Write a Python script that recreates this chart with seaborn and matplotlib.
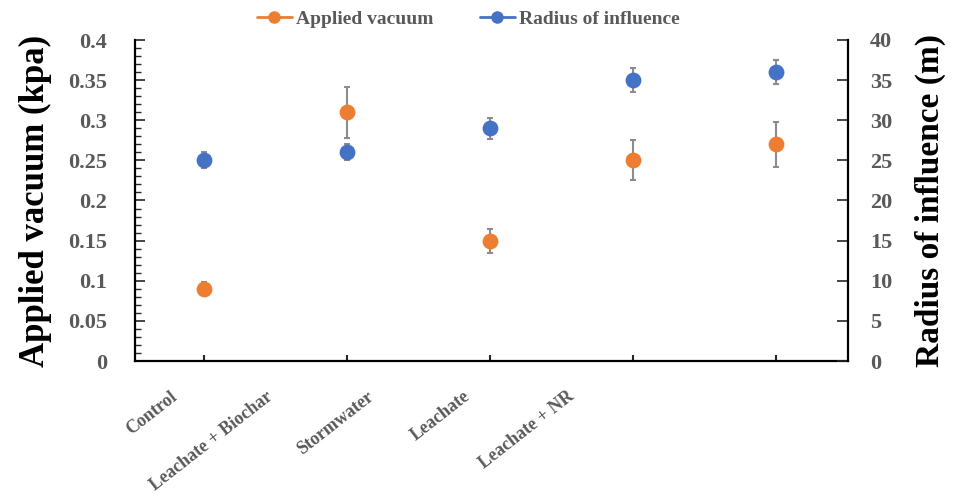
import matplotlib
matplotlib.use("Agg")
import matplotlib.pyplot as plt
import matplotlib.transforms as mtransforms
from matplotlib.ticker import MultipleLocator, FuncFormatter
from matplotlib.lines import Line2D
import seaborn as sns
import pandas as pd

categories = ["Control", "Leachate + Biochar", "Stormwater", "Leachate", "Leachate + NR"]
vacuum = [0.09, 0.31, 0.15, 0.25, 0.27]
vacuum_err = [0.008, 0.032, 0.015, 0.025, 0.028]
radius = [25, 26, 29, 35, 36]
radius_err = [1.0, 1.0, 1.3, 1.5, 1.5]

ORANGE = "#ED7D31"
BLUE = "#4472C4"
GRAY = "#595959"
ERR = "#8C8C8C"

sns.set_theme(style="white")
plt.rcParams["font.family"] = ["Liberation Serif", "DejaVu Serif"]
plt.rcParams["font.weight"] = "bold"

df = pd.DataFrame({"cat": categories, "vacuum": vacuum, "verr": vacuum_err,
                   "radius": radius, "rerr": radius_err})

fig = plt.figure(figsize=(9.56, 4.98), dpi=100)
ax = fig.add_axes([135/956, 1-361/498, (848-135)/956, (361-40)/498])
ax2 = ax.twinx()

ax.errorbar(df["cat"], df["vacuum"], yerr=df["verr"], fmt="none", ecolor=ERR,
            elinewidth=1.5, capsize=2.5, capthick=1.5, zorder=2)
sns.scatterplot(data=df, x="cat", y="vacuum", ax=ax, color=ORANGE, s=130,
                linewidth=0, zorder=3)
ax2.errorbar(df["cat"], df["radius"], yerr=df["rerr"], fmt="none", ecolor=ERR,
             elinewidth=1.5, capsize=2.5, capthick=1.5, zorder=2)
sns.scatterplot(data=df, x="cat", y="radius", ax=ax2, color=BLUE, s=130,
                linewidth=0, zorder=3)

ax.set_xlim(-0.48, 4.5)
ax.set_ylim(0, 0.4)
ax2.set_ylim(0, 40)

ax.yaxis.set_major_locator(MultipleLocator(0.05))
ax.yaxis.set_minor_locator(MultipleLocator(0.01))
ax.yaxis.set_major_formatter(FuncFormatter(lambda v, p: f"{v:g}" if abs(v) > 1e-9 else "0"))
ax2.yaxis.set_major_locator(MultipleLocator(5))

for a in (ax, ax2):
    for s in a.spines.values():
        s.set_visible(False)
ax.spines["left"].set_visible(True)
ax.spines["bottom"].set_visible(True)
ax2.spines["right"].set_visible(True)
for s in (ax.spines["left"], ax.spines["bottom"], ax2.spines["right"]):
    s.set_color("black")
    s.set_linewidth(1.6)

ax.tick_params(axis="y", which="major", direction="in", length=7, width=1.2,
               labelsize=16, labelcolor=GRAY, left=True, pad=20)
ax.tick_params(axis="y", which="minor", direction="in", length=4, width=1.0, left=True)
ax2.tick_params(axis="y", which="major", direction="in", length=8, width=1.2,
                labelsize=16, labelcolor=GRAY, right=True, pad=16)
ax.tick_params(axis="x", direction="in", length=4, width=1.5, bottom=True,
               labelsize=13, labelcolor=GRAY)

ax.set_xlabel("")
ax2.set_xlabel("")
ax.set_ylabel("Applied vacuum (kpa)", fontsize=25, fontweight="bold", color="black", labelpad=12)
ax2.set_ylabel("Radius of influence (m)", fontsize=24, fontweight="bold", color="black", labelpad=16)

# x tick labels: rotated, shifted as in reference
label_shift_px = [-34, -81, -124, -170, -210]
for lab, dx in zip(ax.get_xticklabels(), label_shift_px):
    lab.set_rotation(38)
    lab.set_ha("right")
    lab.set_va("top")
    lab.set_rotation_mode("anchor")
    lab.set_fontweight("bold")
    lab.set_transform(lab.get_transform() + mtransforms.ScaledTranslation(dx/100, -22/100, fig.dpi_scale_trans))

handles = [Line2D([0], [0], color=ORANGE, lw=2, marker="o", markersize=8),
           Line2D([0], [0], color=BLUE, lw=2, marker="o", markersize=8)]
leg = fig.legend(handles, ["Applied vacuum", "Radius of influence"], loc="center",
                 bbox_to_anchor=(468/956, 1-19/498), ncol=2, frameon=False,
                 prop={"size": 14, "weight": "bold", "family": "Liberation Serif"},
                 handlelength=1.8, handletextpad=0.2, columnspacing=2.4)
for t in leg.get_texts():
    t.set_color(GRAY)

fig.savefig("out.png", dpi=100)
